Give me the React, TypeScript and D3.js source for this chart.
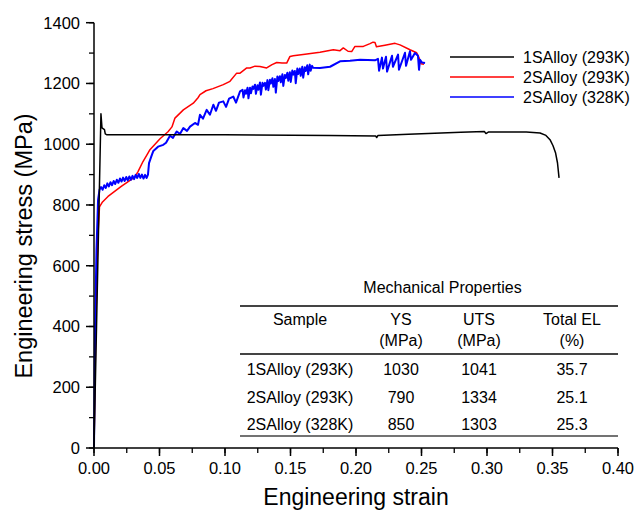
import React from "react";
import * as d3 from "d3";

// ---- data ----
const series1S293K: [number, number][] = [
  [0, 0], [0.0053, 1100], [0.0061, 1054], [0.008, 1048], [0.0086, 1034], [0.0099, 1031],
  [0.1, 1031], [0.18, 1029], [0.215, 1027], [0.2158, 1022], [0.2168, 1029], [0.24, 1033],
  [0.28, 1039], [0.298, 1042], [0.2992, 1035], [0.301, 1040], [0.33, 1040], [0.3405, 1037],
  [0.345, 1029], [0.3481, 1015], [0.3504, 995], [0.3523, 972], [0.3538, 939], [0.355, 889],
];

const series2S293K: [number, number][] = [
  [0, 0], [0.0014, 405], [0.0028, 685], [0.0042, 794], [0.0065, 810], [0.0107, 828], [0.0208, 861],
  [0.0311, 892], [0.0336, 910], [0.0374, 943], [0.0412, 971], [0.0427, 982], [0.0504, 1018],
  [0.0565, 1041], [0.0595, 1057], [0.0618, 1086], [0.0682, 1113], [0.0758, 1135], [0.0794, 1153],
  [0.0809, 1163], [0.0855, 1176], [0.0908, 1183], [0.0987, 1196], [0.1038, 1207], [0.1089, 1234],
  [0.1115, 1234], [0.1166, 1251], [0.1191, 1251], [0.1229, 1257], [0.1267, 1256], [0.1318, 1251],
  [0.1359, 1262], [0.1395, 1269], [0.1435, 1267], [0.1471, 1267], [0.1496, 1289], [0.1521, 1291],
  [0.1611, 1296], [0.1725, 1303], [0.1827, 1311], [0.1878, 1308], [0.1903, 1317], [0.1939, 1306],
  [0.1967, 1305], [0.1992, 1322], [0.2056, 1322], [0.2107, 1331], [0.213, 1336], [0.2145, 1335],
  [0.2156, 1321], [0.2221, 1326], [0.2298, 1332], [0.2336, 1327], [0.2412, 1311], [0.2463, 1301],
  [0.2481, 1285], [0.2496, 1265], [0.2519, 1263],
];

const series2S328K: [number, number][] = [
  [0, 0], [0.0008, 389], [0.0019, 652], [0.0031, 817], [0.0042, 850],
  [0.0054, 859], [0.0066, 850], [0.0078, 865], [0.009, 856], [0.0102, 871], [0.0114, 861],
  [0.0126, 875], [0.0138, 865], [0.015, 879], [0.0162, 869], [0.0174, 883], [0.0186, 873],
  [0.0198, 887], [0.021, 877], [0.0222, 890], [0.0234, 879], [0.0246, 892], [0.0258, 881],
  [0.027, 894], [0.0282, 883], [0.0294, 896], [0.0306, 885], [0.0318, 899], [0.033, 889],
  [0.0342, 902], [0.0354, 889], [0.0366, 900], [0.0378, 887], [0.039, 899], [0.0402, 889],
  [0.0412, 900],
  [0.042, 938], [0.0437, 959], [0.0453, 978], [0.0489, 992], [0.0529, 998], [0.055, 1005],
  [0.058, 1028], [0.0603, 1021], [0.0631, 1042], [0.0656, 1034], [0.0682, 1053], [0.071, 1044],
  [0.0733, 1058], [0.0771, 1070], [0.0794, 1064], [0.0809, 1097], [0.0832, 1084], [0.086, 1113],
  [0.0885, 1097], [0.0911, 1130], [0.0931, 1110], [0.0954, 1137], [0.0987, 1141], [0.1008, 1123],
  [0.1031, 1150], [0.1063, 1157], [0.1084, 1137], [0.1115, 1174],
  [0.1134, 1179], [0.1141, 1154], [0.1153, 1178], [0.116, 1166], [0.1172, 1186], [0.1179, 1151],
  [0.1191, 1186], [0.1198, 1168], [0.121, 1190], [0.1217, 1182], [0.1229, 1196], [0.1236, 1166],
  [0.1248, 1194], [0.1255, 1179], [0.1267, 1203], [0.1274, 1163], [0.1286, 1202], [0.1293, 1192],
  [0.1305, 1202], [0.1312, 1180], [0.1324, 1211], [0.1331, 1178], [0.1343, 1212], [0.135, 1200],
  [0.1362, 1217], [0.1369, 1189], [0.1381, 1215], [0.1388, 1170], [0.14, 1223], [0.1407, 1208],
  [0.1419, 1224], [0.1426, 1204], [0.1438, 1230], [0.1445, 1192], [0.1457, 1228], [0.1464, 1218],
  [0.1476, 1235], [0.1483, 1209], [0.1495, 1237], [0.1502, 1205], [0.1514, 1243], [0.1521, 1229],
  [0.1533, 1241], [0.154, 1201], [0.1552, 1249], [0.1559, 1231], [0.1571, 1249], [0.1578, 1225],
  [0.159, 1255], [0.1597, 1219], [0.1609, 1253], [0.1616, 1241], [0.1628, 1260], [0.1635, 1230],
  [0.1647, 1262], [0.1654, 1242], [0.1665, 1258], [0.1672, 1252],
  [0.1725, 1251], [0.1802, 1255], [0.1878, 1273], [0.1954, 1275], [0.2031, 1278],
  [0.2145, 1276], [0.2168, 1281], [0.2176, 1242], [0.2198, 1285], [0.2206, 1249], [0.2229, 1288],
  [0.2237, 1239], [0.2275, 1291], [0.2282, 1255], [0.2321, 1295], [0.2328, 1245], [0.2374, 1301],
  [0.2382, 1258], [0.2412, 1306], [0.242, 1278], [0.245, 1300], [0.2473, 1291], [0.2481, 1245],
  [0.2489, 1278], [0.2504, 1269], [0.2527, 1267],
];

const legendLabels = ["1SAlloy (293K)", "2SAlloy (293K)", "2SAlloy (328K)"];
const seriesColors = ["#000000", "#ff0000", "#0000ff"];

const tableTitle = "Mechanical Properties";
const tableHeaders = [["Sample"], ["YS", "(MPa)"], ["UTS", "(MPa)"], ["Total EL", "(%)"]];
const tableSamples = ["1SAlloy (293K)", "2SAlloy (293K)", "2SAlloy (328K)"];
const tableYS = [1030, 790, 850];
const tableUTS = [1041, 1334, 1303];
const tableEL = [35.7, 25.1, 25.3];

const xMajorTicks = [0, 0.05, 0.1, 0.15, 0.2, 0.25, 0.3, 0.35, 0.4];
const yMajorTicks = [0, 200, 400, 600, 800, 1000, 1200, 1400];

export default function App() {
  const W = 636, H = 510;
  const x = d3.scaleLinear().domain([0, 0.4]).range([94, 618]);
  const y = d3.scaleLinear().domain([0, 1400]).range([448, 22.7]);
  const line = d3.line<[number, number]>().x((d) => x(d[0])).y((d) => y(d[1]));
  const font = "'Liberation Sans', Arial, sans-serif";
  const xMinor = d3.range(0, 0.4001, 0.025);
  const yMinor = d3.range(0, 1401, 100);
  const fx = d3.format(".2f");
  const allSeries = [series1S293K, series2S293K, series2S328K];
  const drawOrder = [1, 2, 0];

  const colX = [300, 401, 479, 572];
  const rowBase = [375, 403, 430];

  return (
    <svg width={W} height={H} style={{ position: "absolute", left: 0, top: 0, background: "#fff" }} fontFamily={font}>
      <rect width={W} height={H} fill="#fff" />
      {/* curves */}
      {drawOrder.map((i) => (
        <path key={i} d={line(allSeries[i]) || ""} fill="none" stroke={seriesColors[i]} strokeWidth={i === 2 ? 2 : 1.5} strokeLinejoin="round" />
      ))}
      {/* axes */}
      <line x1={x(0)} x2={x(0.4)} y1={y(0)} y2={y(0)} stroke="#000" strokeWidth={1.5} />
      <line x1={x(0)} x2={x(0)} y1={y(0)} y2={y(1400)} stroke="#000" strokeWidth={1.5} />
      {xMinor.map((t) => (
        <line key={"xm" + t} x1={x(t)} x2={x(t)} y1={y(0)} y2={y(0) + 5} stroke="#000" strokeWidth={1.3} />
      ))}
      {xMajorTicks.map((t) => (
        <g key={"x" + t}>
          <line x1={x(t)} x2={x(t)} y1={y(0)} y2={y(0) + 8} stroke="#000" strokeWidth={1.5} />
          <text x={x(t)} y={474} textAnchor="middle" fontSize={16.5} fill="#000">{fx(t)}</text>
        </g>
      ))}
      {yMinor.map((t) => (
        <line key={"ym" + t} x1={x(0) - 5} x2={x(0)} y1={y(t)} y2={y(t)} stroke="#000" strokeWidth={1.3} />
      ))}
      {yMajorTicks.map((t) => (
        <g key={"y" + t}>
          <line x1={x(0) - 8} x2={x(0)} y1={y(t)} y2={y(t)} stroke="#000" strokeWidth={1.5} />
          <text x={80} y={y(t)} dy="0.36em" textAnchor="end" fontSize={16.5} fill="#000">{t}</text>
        </g>
      ))}
      <text x={(x(0) + x(0.4)) / 2} y={505} textAnchor="middle" fontSize={23} fill="#000">Engineering strain</text>
      <text transform={`translate(31.5,246) rotate(-90)`} textAnchor="middle" fontSize={23.5} fill="#000">Engineering stress (MPa)</text>

      {/* legend */}
      {legendLabels.map((lab, i) => (
        <g key={lab} transform={`translate(0,${57 + i * 20})`}>
          <line x1={450} x2={514} y1={0} y2={0} stroke={seriesColors[i]} strokeWidth={1.5} />
          <text x={523} y={0} dy="0.36em" fontSize={16} fill="#000">{lab}</text>
        </g>
      ))}

      {/* table */}
      <text x={442.5} y={293} textAnchor="middle" fontSize={16} fill="#000">{tableTitle}</text>
      <line x1={240} x2={618} y1={306} y2={306} stroke="#444" strokeWidth={2} />
      {tableHeaders.map((h, c) => (
        <g key={"h" + c}>
          {h.map((s, k) => (
            <text key={s} x={colX[c]} y={325 + k * 21} textAnchor="middle" fontSize={16} fill="#000">{s}</text>
          ))}
        </g>
      ))}
      <line x1={240} x2={618} y1={354} y2={354} stroke="#444" strokeWidth={2} />
      {tableSamples.map((s, r) => (
        <g key={"r" + r}>
          <text x={colX[0]} y={rowBase[r]} textAnchor="middle" fontSize={16} fill="#000">{s}</text>
          <text x={colX[1]} y={rowBase[r]} textAnchor="middle" fontSize={16} fill="#000">{tableYS[r]}</text>
          <text x={colX[2]} y={rowBase[r]} textAnchor="middle" fontSize={16} fill="#000">{tableUTS[r]}</text>
          <text x={colX[3]} y={rowBase[r]} textAnchor="middle" fontSize={16} fill="#000">{tableEL[r].toFixed(1)}</text>
        </g>
      ))}
      <line x1={240} x2={618} y1={436} y2={436} stroke="#444" strokeWidth={1.6} />
    </svg>
  );
}
